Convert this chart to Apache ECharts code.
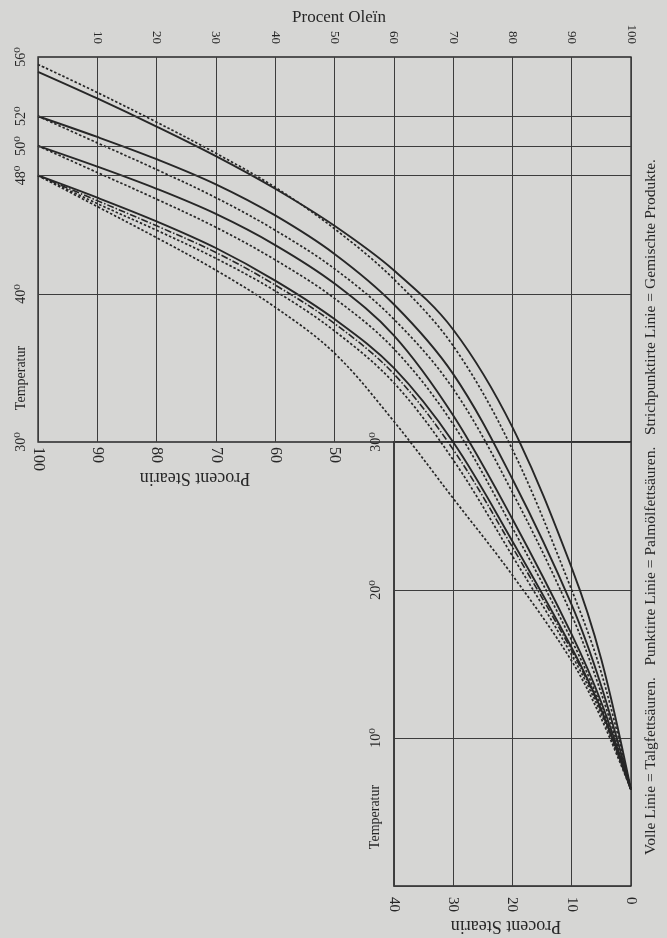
<!DOCTYPE html>
<html>
<head>
<meta charset="utf-8">
<script src="https://cdn.jsdelivr.net/npm/echarts@6/dist/echarts.min.js"></script>
<style>
html, body { margin: 0; padding: 0; background: #d6d6d4; }
#chart { width: 667px; height: 938px; }
</style>
</head>
<body>
<div id="chart"></div>
<script>
// Procent Oleïn, x positions of the read-off points
const oleinSteps = [0, 10, 20, 30, 40, 50, 60, 70, 80, 90, 95, 100];

// Erstarrungspunkte (Temperatur) per curve, same order as oleinSteps
const talg55 = [55.0, 53.2, 51.3, 49.3, 47.1, 44.6, 41.6, 37.6, 31.0, 21.5, 15.3, 6.5];
const palm55 = [55.5, 53.6, 51.6, 49.5, 47.2, 44.4, 41.0, 36.5, 29.5, 20.0, 14.4, 6.5];
const talg52 = [52.0, 50.6, 49.1, 47.4, 45.3, 42.7, 39.3, 34.6, 27.5, 19.0, 13.5, 6.5];
const palm52 = [52.0, 50.2, 48.4, 46.5, 44.3, 41.7, 38.3, 33.6, 26.6, 18.3, 13.0, 6.5];
const talg50 = [50.0, 48.6, 47.1, 45.4, 43.3, 40.7, 37.2, 31.8, 24.8, 17.0, 12.4, 6.5];
const palm50 = [50.0, 48.2, 46.4, 44.5, 42.3, 39.7, 36.3, 31.2, 24.2, 16.6, 12.1, 6.5];
const talg48 = [48.0, 46.5, 44.9, 43.1, 40.9, 38.3, 35.0, 30.0, 23.3, 16.1, 11.9, 6.5];
const misch48 = [48.0, 46.3, 44.6, 42.8, 40.6, 38.0, 34.6, 29.5, 22.9, 15.9, 11.8, 6.5];
const palm48 = [48.0, 46.1, 44.3, 42.4, 40.2, 37.5, 34.0, 28.8, 22.3, 15.6, 11.6, 6.5];
const palm48b = [48.0, 45.9, 43.8, 41.6, 39.1, 36.0, 31.4, 26.2, 21.0, 15.2, 11.3, 6.5];

// tick labels
const oleinLabels = ['', '10', '20', '30', '40', '50', '60', '70', '80', '90', '100'];
const stearinUpperLabels = ['100', '90', '80', '70', '60', '50', '', '', '', '', ''];
const stearinLowerLabels = ['40', '30', '20', '10', '0'];
const tempTicksUpper = [56, 52, 50, 48, 40, 30];
const tempLinesUpper = [52, 50, 48, 40];
const tempTicksLower = [30, 20, 10];

const INK = '#272727';
const RULE = '#3c3c3c';
const SERIF = '"Liberation Serif", "DejaVu Serif", serif';

const dotted = [2.5, 2];
const dashDot = [7, 2, 1.5, 2];
const curves = [
    { name: 'Talg 55', data: talg55, type: 'solid', width: 1.9 },
    { name: 'Palm 55', data: palm55, type: dotted, width: 1.7 },
    { name: 'Talg 52', data: talg52, type: 'solid', width: 1.9 },
    { name: 'Palm 52', data: palm52, type: dotted, width: 1.7 },
    { name: 'Talg 50', data: talg50, type: 'solid', width: 1.9 },
    { name: 'Palm 50', data: palm50, type: dotted, width: 1.7 },
    { name: 'Talg 48', data: talg48, type: 'solid', width: 1.9 },
    { name: 'Misch 48', data: misch48, type: dashDot, width: 1.6 },
    { name: 'Palm 48', data: palm48, type: dotted, width: 1.7 },
    { name: 'Palm 48b', data: palm48b, type: dotted, width: 1.7 }
];

const chart = echarts.init(document.getElementById('chart'));

const series = [];
curves.forEach((c, i) => {
    const pts = oleinSteps.map((o, k) => [o, c.data[k]]);
    // same curve in both panels, each clipped to its own grid
    [0, 1].forEach(g => {
        const s = {
            name: c.name,
            type: 'line',
            xAxisIndex: g === 0 ? 0 : 2,
            yAxisIndex: g,
            data: pts,
            smooth: 0.35,
            symbol: 'none',
            clip: true,
            silent: true,
            lineStyle: { color: INK, width: c.width, type: c.type }
        };
        if (i === 0 && g === 0) {
            s.markLine = {
                silent: true,
                symbol: 'none',
                label: { show: false },
                lineStyle: { color: RULE, width: 1, type: 'solid' },
                data: tempLinesUpper.map(t => ({ yAxis: t }))
            };
        }
        series.push(s);
    });
});

const option = {
    animation: false,
    backgroundColor: '#d6d6d4',
    grid: [
        { left: 38, right: 36, top: 57, height: 385, show: true, borderColor: INK, borderWidth: 1.3, backgroundColor: 'transparent' },
        { left: 393.8, right: 36, top: 442, height: 444, show: true, borderColor: INK, borderWidth: 1.3, backgroundColor: 'transparent' }
    ],
    xAxis: [
        {
            gridIndex: 0, type: 'value', min: 0, max: 100, interval: 10, position: 'top',
            axisLine: { show: false }, axisTick: { show: false },
            splitLine: { show: true, lineStyle: { color: RULE, width: 1 } },
            axisLabel: { rotate: 90, margin: 13, color: INK, fontFamily: SERIF, fontSize: 13, formatter: v => oleinLabels[v / 10] }
        },
        {
            gridIndex: 0, type: 'value', min: 0, max: 100, interval: 10, position: 'bottom',
            axisLine: { show: false }, axisTick: { show: false }, splitLine: { show: false },
            axisLabel: { rotate: -90, margin: 5, color: INK, fontFamily: SERIF, fontSize: 16, formatter: v => stearinUpperLabels[v / 10] }
        },
        {
            gridIndex: 1, type: 'value', min: 60, max: 100, interval: 10, position: 'bottom',
            axisLine: { show: false }, axisTick: { show: false },
            splitLine: { show: true, lineStyle: { color: RULE, width: 1 } },
            axisLabel: { rotate: -90, margin: 11, color: INK, fontFamily: SERIF, fontSize: 15, formatter: v => stearinLowerLabels[(v - 60) / 10] }
        }
    ],
    yAxis: [
        {
            gridIndex: 0, type: 'value', min: 30, max: 56, interval: 1,
            axisLine: { show: false }, axisTick: { show: false }, splitLine: { show: false },
            axisLabel: { rotate: 90, margin: 10, color: INK, fontFamily: SERIF, fontSize: 14, formatter: v => tempTicksUpper.includes(v) ? v + '⁰' : '' }
        },
        {
            gridIndex: 1, type: 'value', min: 0, max: 30, interval: 10,
            axisLine: { show: false }, axisTick: { show: false },
            splitLine: { show: true, lineStyle: { color: RULE, width: 1 } },
            axisLabel: { rotate: 90, margin: 10, color: INK, fontFamily: SERIF, fontSize: 14, formatter: v => tempTicksLower.includes(v) ? v + '⁰' : '' }
        }
    ],
    graphic: [
        { type: 'text', x: 339, y: 18, style: { text: 'Procent Oleïn', font: '17px ' + SERIF, fill: INK, align: 'center', verticalAlign: 'middle' } },
        { type: 'text', x: 21, y: 378, rotation: Math.PI / 2, style: { text: 'Temperatur', font: '14px ' + SERIF, fill: INK, align: 'center', verticalAlign: 'middle' } },
        { type: 'text', x: 375, y: 817, rotation: Math.PI / 2, style: { text: 'Temperatur', font: '14px ' + SERIF, fill: INK, align: 'center', verticalAlign: 'middle' } },
        { type: 'text', x: 195, y: 478, rotation: Math.PI, style: { text: 'Procent Stearin', font: '18px ' + SERIF, fill: INK, align: 'center', verticalAlign: 'middle' } },
        { type: 'text', x: 506, y: 926, rotation: Math.PI, style: { text: 'Procent Stearin', font: '18px ' + SERIF, fill: INK, align: 'center', verticalAlign: 'middle' } },
        { type: 'text', x: 651, y: 507, rotation: Math.PI / 2, style: { text: 'Volle Linie = Talgfettsäuren.   Punktirte Linie = Palmölfettsäuren.   Strichpunktirte Linie = Gemischte Produkte.', font: '15.5px ' + SERIF, fill: INK, align: 'center', verticalAlign: 'middle' } }
    ],
    series: series
};

chart.setOption(option);
window.addEventListener('resize', () => chart.resize());
</script>
</body>
</html>
